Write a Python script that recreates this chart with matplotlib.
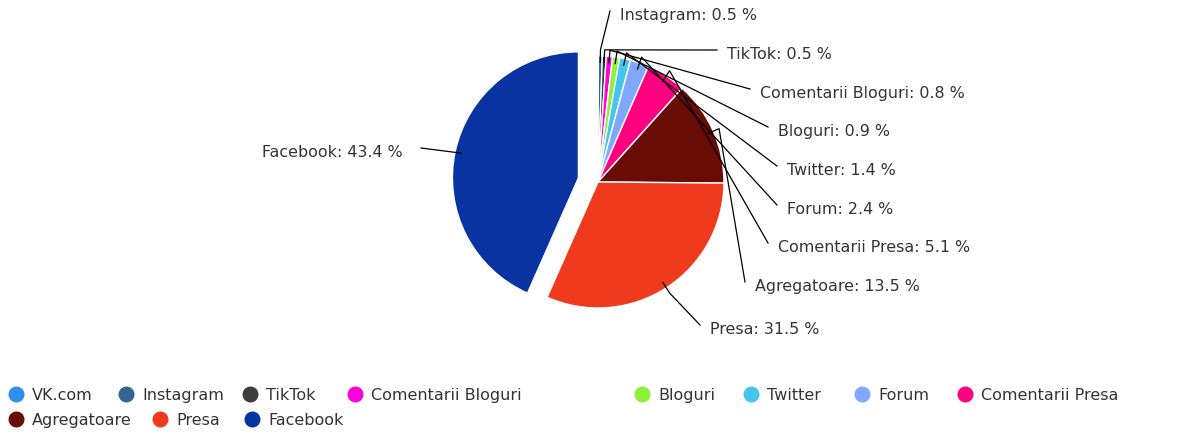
import numpy as np
import matplotlib
matplotlib.use("Agg")
import matplotlib.pyplot as plt

# data
sources = ["VK.com", "Instagram", "TikTok", "Comentarii Bloguri", "Bloguri",
           "Twitter", "Forum", "Comentarii Presa", "Agregatoare", "Presa", "Facebook"]
shares = [0.05, 0.5, 0.5, 0.8, 0.9, 1.4, 2.4, 5.1, 13.5, 31.5, 43.4]
share_labels = ["", "0.5", "0.5", "0.8", "0.9", "1.4", "2.4", "5.1", "13.5", "31.5", "43.4"]
colors = ["#2f8ff0", "#336690", "#3c3c3c", "#ff00dd", "#8ff03a", "#45c5ee",
          "#80a8ff", "#ff0080", "#6a0c06", "#f03a1e", "#0833a0"]

W, H = 1191, 432
fig = plt.figure(figsize=(W / 100, H / 100), dpi=100)
ax = fig.add_axes([0, 0, 1, 1])

cx, cy, R = 598, H - 182, 126
# explode offset is in data units here (pixels)
explode = [0] * (len(shares) - 1) + [20]
wedges, _ = ax.pie(shares, colors=colors, startangle=90, counterclock=False,
                   center=(cx, cy), radius=R, explode=explode,
                   wedgeprops=dict(edgecolor="white", linewidth=1), frame=True)
ax.set_xlim(0, W)
ax.set_ylim(0, H)
ax.set_aspect("equal")
ax.axis("off")

# label anchors (left edge x, centre y in pixels from top)
label_pos = {
    "Instagram": (620, 14), "TikTok": (727, 53), "Comentarii Bloguri": (760, 92),
    "Bloguri": (778, 130), "Twitter": (787, 169), "Forum": (787, 208),
    "Comentarii Presa": (778, 246), "Agregatoare": (755, 285), "Presa": (710, 328),
    "Facebook": (403, 151),
}
txt = "#333333"
for w, name, lab in zip(wedges, sources, share_labels):
    if not lab:
        continue
    ang = np.deg2rad((w.theta1 + w.theta2) / 2)
    wx, wy = w.center
    ex, ey = wx + w.r * 0.95 * np.cos(ang), wy + w.r * 0.95 * np.sin(ang)
    lx, ly = label_pos[name]
    ly = H - ly
    if name == "Facebook":
        ax.plot([ex, lx + 18], [ey, ly + 3], color="black", lw=0.9)
        ax.text(lx, ly, f"{name}: {lab} %", ha="right", va="center_baseline",
                fontsize=11.4, color=txt)
    else:
        ox, oy = wx + w.r * 1.05 * np.cos(ang), wy + w.r * 1.05 * np.sin(ang)
        ax.plot([ex, ox, lx - 10], [ey, oy, ly + 3], color="black", lw=0.9)
        ax.text(lx, ly, f"{name}: {lab} %", ha="left", va="center_baseline",
                fontsize=11.4, color=txt)

# legend laid out like the reference (flow layout, two rows)
legend_x = [16, 126, 250, 355, 642, 751, 862, 965, 16, 160, 252]
legend_y = [394] * 8 + [419] * 3
for name, c, x, y in zip(sources, colors, legend_x, legend_y):
    ax.plot(x, H - y, "o", color=c, markersize=10.5)
    ax.text(x + 16, H - y, name, ha="left", va="center_baseline",
            fontsize=11.5, color=txt)

fig.savefig("out.png", dpi=100)
